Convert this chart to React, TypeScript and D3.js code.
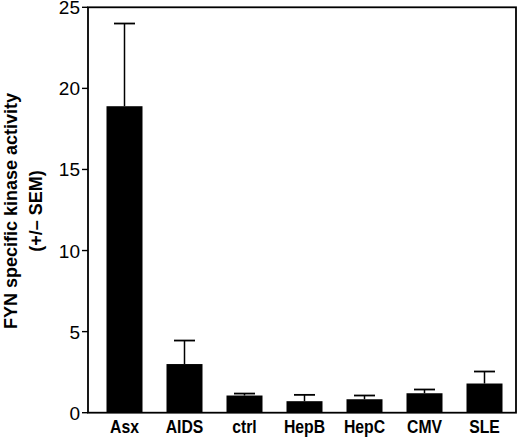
import React from "react";
import * as d3 from "d3";

const categories = ["Asx", "AIDS", "ctrl", "HepB", "HepC", "CMV", "SLE"];
const values = [18.9, 3.0, 1.06, 0.71, 0.83, 1.2, 1.8];
const sem = [5.1, 1.45, 0.12, 0.39, 0.23, 0.23, 0.74];
const yTicks = [0, 5, 10, 15, 20, 25];
const yLabel1 = "FYN specific kinase activity";
const yLabel2 = "(+/\u2013 SEM)";

export default function App() {
  const W = 520, H = 439;
  const left = 88, right = 516, top = 7.3, bottom = 412.7;
  const y = d3.scaleLinear().domain([0, 25]).range([bottom, top]);
  const x = d3.scaleBand<string>().domain(categories).range([94.5, 514.5]).paddingInner(0.4).paddingOuter(0.2);
  const bw = x.bandwidth();
  const font = "'Liberation Sans', Arial, Helvetica, sans-serif";
  return (
    <svg width={W} height={H} style={{ position: "absolute", left: 0, top: 0, background: "#fff" }}>
      <rect x={left} y={top} width={right - left} height={bottom - top} fill="none" stroke="#000" strokeWidth={1.8} />
      {yTicks.map((t) => (
        <g key={t}>
          <line x1={left - 6} x2={left} y1={y(t)} y2={y(t)} stroke="#000" strokeWidth={1.4} />
          <text x={left - 8} y={y(t) + 7} textAnchor="end" fontFamily={font} fontSize={19}>
            {t}
          </text>
        </g>
      ))}
      {categories.map((c, i) => {
        const x0 = x(c)!;
        const cx = x0 + bw / 2;
        const yt = y(values[i]);
        const ye = y(values[i] + sem[i]);
        return (
          <g key={c}>
            <line x1={cx} x2={cx} y1={yt} y2={ye} stroke="#000" strokeWidth={1.5} />
            <line x1={cx - 10.5} x2={cx + 10.5} y1={ye} y2={ye} stroke="#000" strokeWidth={1.8} />
            <rect x={x0} y={yt} width={bw} height={bottom - yt} fill="#000" />
            <text
              transform={`translate(${cx},433) scale(0.9,1)`}
              textAnchor="middle"
              fontFamily={font}
              fontWeight="bold"
              fontSize={17.5}
            >
              {c}
            </text>
          </g>
        );
      })}
      <text transform="translate(17,211) rotate(-90)" textAnchor="middle" fontFamily={font} fontWeight="bold" fontSize={18}>
        {yLabel1}
      </text>
      <text transform="translate(42,211) rotate(-90)" textAnchor="middle" fontFamily={font} fontWeight="bold" fontSize={18}>
        {yLabel2}
      </text>
    </svg>
  );
}
